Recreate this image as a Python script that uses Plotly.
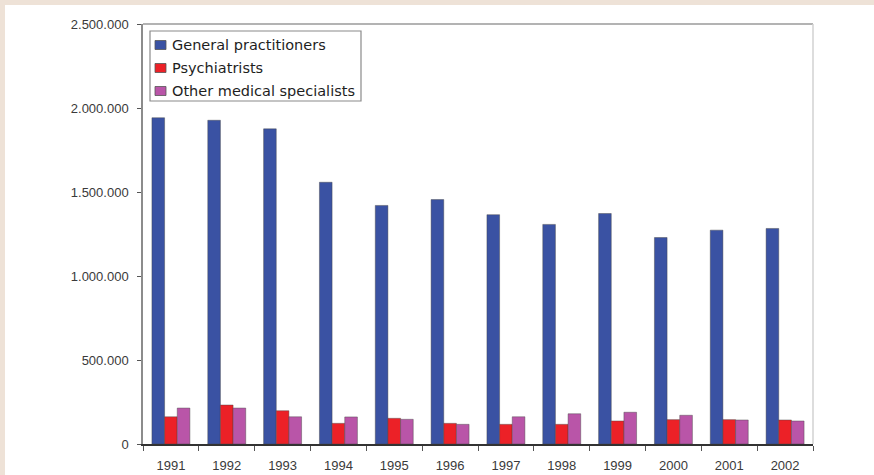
import plotly.graph_objects as go

# Yearly totals per group of physicians
years = ["1991", "1992", "1993", "1994", "1995", "1996",
         "1997", "1998", "1999", "2000", "2001", "2002"]
general_practitioners = [1942000, 1927000, 1876000, 1558000, 1420000, 1455000,
                         1365000, 1307000, 1372000, 1229000, 1273000, 1283000]
psychiatrists = [162000, 232000, 198000, 123000, 153000, 123000,
                 117000, 117000, 137000, 145000, 145000, 143000]
other_specialists = [214000, 214000, 162000, 161000, 147000, 117000,
                     162000, 180000, 189000, 171000, 143000, 137000]

series_names = ["General practitioners", "Psychiatrists", "Other medical specialists"]
series_values = [general_practitioners, psychiatrists, other_specialists]
series_colors = ["#3A52A3", "#EC2127", "#B955A8"]

y_tick_values = [0, 500000, 1000000, 1500000, 2000000, 2500000]
y_tick_labels = ["0", "500.000", "1.000.000", "1.500.000", "2.000.000", "2.500.000"]

W, H = 874, 475
ML, MR, MT, MB = 143, 61, 24, 31
PW, PH = W - ML - MR, H - MT - MB
BORDER = "#EEE2D7"


def px_x(p):
    return (p - ML) / PW


def px_y(p):
    return 1 - (p - MT) / PH


fig = go.Figure()
for name, vals, col in zip(series_names, series_values, series_colors):
    fig.add_trace(go.Bar(
        x=years, y=vals, name=name, showlegend=False,
        marker=dict(color=col, line=dict(color="rgba(70,70,70,0.55)", width=0.8)),
    ))

shapes = [
    # thin textured-paper border along the top and left edges
    dict(type="rect", xref="paper", yref="paper", layer="below",
         x0=px_x(-2), x1=px_x(W + 2), y0=px_y(5), y1=px_y(-2),
         fillcolor=BORDER, line=dict(width=0)),
    dict(type="rect", xref="paper", yref="paper", layer="below",
         x0=px_x(-2), x1=px_x(5), y0=px_y(H + 2), y1=px_y(-2),
         fillcolor=BORDER, line=dict(width=0)),
    # top and right frame of the plot area
    dict(type="line", xref="paper", yref="paper", x0=0, x1=1, y0=1, y1=1,
         line=dict(color="#9A9A9A", width=1.5)),
    dict(type="line", xref="paper", yref="paper", x0=1, x1=1, y0=0, y1=1,
         line=dict(color="#D2D2D2", width=1.5)),
]

# legend box
lx0, lx1, ly0, ly1 = 150, 361, 31, 101
shapes.append(dict(type="rect", xref="paper", yref="paper",
                   x0=px_x(lx0), x1=px_x(lx1), y0=px_y(ly1), y1=px_y(ly0),
                   fillcolor="white", line=dict(color="#8A8A8A", width=1.2)))
annotations = []
row_centers = [45, 68, 91]
for name, col, cy in zip(series_names, series_colors, row_centers):
    shapes.append(dict(type="rect", xref="paper", yref="paper",
                       x0=px_x(155), x1=px_x(166), y0=px_y(cy + 4.5), y1=px_y(cy - 4.5),
                       fillcolor=col, line=dict(color="#555555", width=0.8)))
    annotations.append(dict(xref="paper", yref="paper", x=px_x(170), y=px_y(cy),
                            xanchor="left", yanchor="middle", showarrow=False,
                            text=name,
                            font=dict(family="DejaVu Sans, Arial", size=14.5, color="#1E1E1E")))

fig.update_layout(
    width=W, height=H,
    margin=dict(l=ML, r=MR, t=MT, b=MB, autoexpand=False),
    paper_bgcolor="white",
    plot_bgcolor="white",
    barmode="group",
    bargap=0.32,
    bargroupgap=0,
    shapes=shapes,
    annotations=annotations,
    font=dict(family="Liberation Sans, Arial, sans-serif", size=13, color="#333333"),
)
fig.update_xaxes(
    type="category", showgrid=False, showline=True, linecolor="#333333", linewidth=1.5,
    ticks="outside", tickson="boundaries", ticklen=5, tickcolor="#555555",
    ticklabelstandoff=9, tickfont=dict(size=13, color="#3A3A3A"), automargin=False,
)
fig.update_yaxes(
    range=[0, 2500000], showgrid=False, zeroline=False,
    showline=True, linecolor="#8C8C8C", linewidth=1.5,
    tickmode="array", tickvals=y_tick_values, ticktext=y_tick_labels,
    ticks="outside", ticklen=4, tickcolor="#555555",
    ticklabelstandoff=6, tickfont=dict(size=13, color="#3A3A3A"), automargin=False,
)

fig.write_html("out.html")
